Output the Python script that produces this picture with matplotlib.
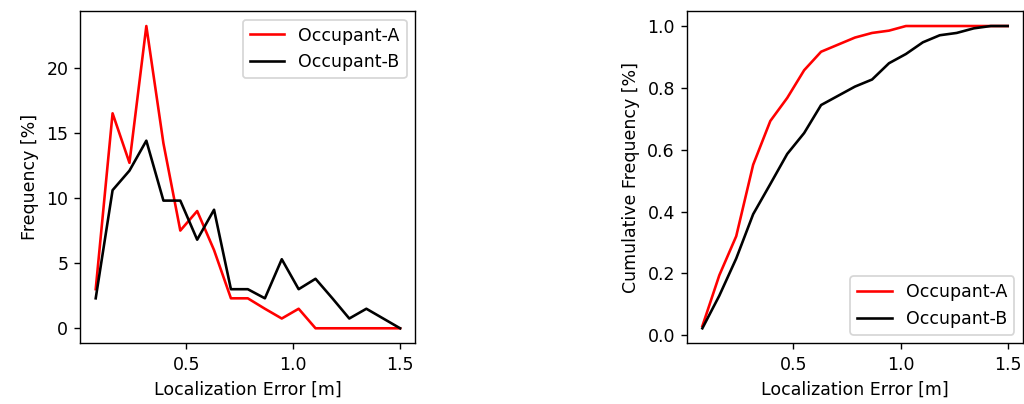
import numpy as np
import matplotlib
matplotlib.use("Agg")
import matplotlib.pyplot as plt

# localization error bins [m]
error = [0.075, 0.154, 0.233, 0.312, 0.392, 0.471, 0.550, 0.629, 0.708, 0.787,
         0.867, 0.946, 1.025, 1.104, 1.183, 1.262, 1.342, 1.421, 1.500]

# frequency [%]
occ_a = [3.0, 16.5, 12.7, 23.2, 14.2, 7.5, 9.0, 6.0, 2.3, 2.3,
         1.5, 0.75, 1.5, 0, 0, 0, 0, 0, 0]
occ_b = [2.3, 10.6, 12.1, 14.4, 9.8, 9.8, 6.8, 9.1, 3.0, 3.0,
         2.3, 5.3, 3.0, 3.8, 2.3, 0.75, 1.5, 0.75, 0]

cum_a = np.cumsum(occ_a) / np.sum(occ_a)
cum_b = np.cumsum(occ_b) / np.sum(occ_b)

fig = plt.figure(figsize=(8.192, 3.232), dpi=125)

ax1 = fig.add_axes([0.0786, 0.150, 0.327, 0.823])
ax1.plot(error, occ_a, color="red", label="Occupant-A")
ax1.plot(error, occ_b, color="black", label="Occupant-B")
ax1.set_xlabel("Localization Error [m]")
ax1.set_ylabel("Frequency [%]")
ax1.legend(loc="upper right")

ax2 = fig.add_axes([0.671, 0.150, 0.328, 0.823])
ax2.plot(error, cum_a, color="red", label="Occupant-A")
ax2.plot(error, cum_b, color="black", label="Occupant-B")
ax2.set_xlabel("Localization Error [m]")
ax2.set_ylabel("Cumulative Frequency [%]")
ax2.legend(loc="lower right")

fig.savefig("out.png", dpi=125)
